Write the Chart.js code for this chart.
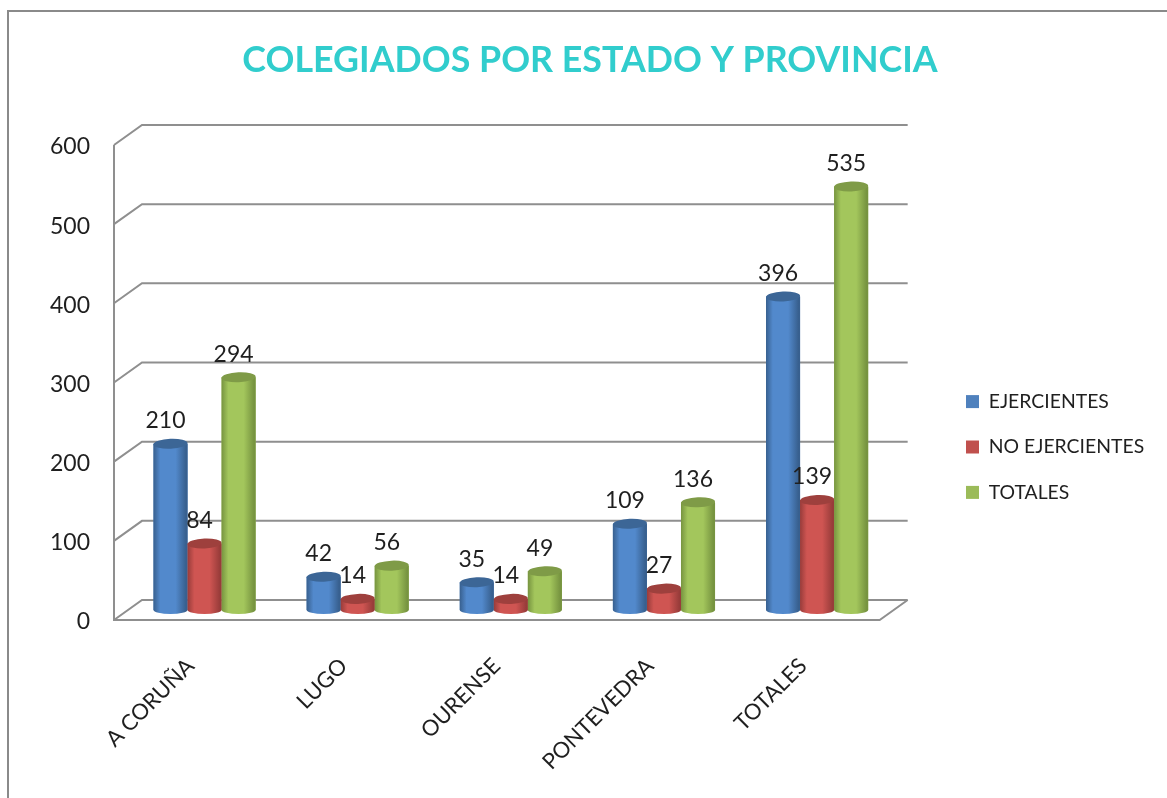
<!DOCTYPE html>
<html><head><meta charset="utf-8">
<style>
html,body{margin:0;padding:0;background:#fff;overflow:hidden}
#wrap{position:relative;width:1167px;height:798px}
#frame{position:absolute;left:7px;top:10px;right:0;bottom:0;border-left:2px solid #8a8a8a;border-top:2px solid #8a8a8a}
canvas{position:absolute;left:0;top:0;filter:blur(0.4px)}
</style>
<script src="https://cdn.jsdelivr.net/npm/chart.js@4"></script>
</head><body>
<div id="wrap"><div id="frame"></div><canvas id="c" width="1167" height="798"></canvas></div>
<script>
const titleText = 'COLEGIADOS POR ESTADO Y PROVINCIA';
const categories = ['A CORUÑA','LUGO','OURENSE','PONTEVEDRA','TOTALES'];
const ejercientes = [210,42,35,109,396];
const noEjercientes = [84,14,14,27,139];
const totales = [294,56,49,136,535];
const yTicks = [0,100,200,300,400,500,600];
const FONT = 'Lato';
const TEXT = '#1f1f1f';
const shades = {
  '#4f81bd':{edge:'#38608f',mid:'#5289cc',cap:'#3c6696'},
  '#c0504d':{edge:'#983c3a',mid:'#cf5552',cap:'#9e403d'},
  '#9bbb59':{edge:'#779440',mid:'#a3c65c',cap:'#7f9b47'}
};
const DX=14, DY=10, RY=5;
const wall = {
  id:'wall',
  beforeDatasetsDraw(chart){
    const {ctx,chartArea:a,scales:{y}}=chart;
    ctx.save();ctx.strokeStyle='#8f8f8f';ctx.lineWidth=2;ctx.lineJoin='miter';
    y.ticks.forEach(t=>{
      const p=y.getPixelForValue(t.value);
      ctx.beginPath();ctx.moveTo(a.left-DX,p+DY);ctx.lineTo(a.left+DX,p-DY);ctx.lineTo(a.right+DX,p-DY);ctx.stroke();
    });
    const top=y.getPixelForValue(y.max),bot=y.getPixelForValue(y.min);
    ctx.beginPath();ctx.moveTo(a.left-DX,top+DY);ctx.lineTo(a.left-DX,bot+DY);ctx.lineTo(a.right-DX,bot+DY);ctx.lineTo(a.right+DX,bot-DY);ctx.stroke();
    ctx.restore();
  }
};
const cylinders = {
  id:'cylinders',
  afterDatasetsDraw(chart){
    const {ctx}=chart;
    ctx.save();
    chart.data.datasets.forEach((ds,i)=>{
      const s=shades[ds.backgroundColor];
      chart.getDatasetMeta(i).data.forEach(b=>{
        const {x,y,base,width}=b.getProps(['x','y','base','width'],true);
        const l=x-width/2,r=x+width/2,rx=width/2;
        const g=ctx.createLinearGradient(l,0,r,0);
        g.addColorStop(0,s.edge);g.addColorStop(.2,s.mid);g.addColorStop(.65,s.mid);g.addColorStop(.95,s.edge);g.addColorStop(1,s.edge);
        ctx.fillStyle=g;
        ctx.beginPath();
        ctx.moveTo(l,y);ctx.lineTo(l,base);
        ctx.ellipse(x,base,rx,RY-1,0,Math.PI,0,true);
        ctx.lineTo(r,y);ctx.closePath();ctx.fill();
        ctx.fillStyle=s.cap;
        ctx.beginPath();ctx.ellipse(x,y,rx,RY,-0.04,0,Math.PI*2);ctx.fill();
      });
    });
    chart.data.datasets.forEach((ds,i)=>{
      chart.getDatasetMeta(i).data.forEach((b,j)=>{
        const {x,y}=b.getProps(['x','y'],true);
        ctx.fillStyle=TEXT;ctx.font='23px '+FONT;ctx.textAlign='center';ctx.textBaseline='middle';
        ctx.fillText(String(ds.data[j]),x-5,y-23);
      });
    });
    ctx.restore();
  }
};
const placeLegend = {
  id:'placeLegend',
  afterLayout(chart){
    const L=chart.legend, pad=L.options.labels.padding;
    L.left=966-pad; L.right=1167;
    L.width=L.right-L.left;
    L.top+=48; L.bottom+=48;
  }
};
const solid=c=>({backgroundColor:c,borderWidth:0,categoryPercentage:0.667,barPercentage:1});
new Chart(document.getElementById('c'),{
  type:'bar',
  data:{labels:categories,datasets:[
    {label:'EJERCIENTES',data:ejercientes,...solid('#4f81bd')},
    {label:'NO EJERCIENTES',data:noEjercientes,...solid('#c0504d')},
    {label:'TOTALES',data:totales,...solid('#9bbb59')}
  ]},
  options:{
    responsive:false,animation:false,
    layout:{autoPadding:false,padding:{left:13,right:0,top:0,bottom:0}},
    plugins:{
      title:{display:true,text:titleText,color:'#31cdcd',font:{family:FONT,size:35.8,weight:'bold',lineHeight:1.2},padding:{top:39,bottom:53}},
      legend:{position:'right',labels:{boxWidth:13,boxHeight:13,color:TEXT,font:{family:FONT,size:19.4},padding:26}},
      tooltip:{enabled:false}
    },
    scales:{
      x:{
        grid:{display:false,drawTicks:false},border:{display:false},
        afterFit(s){s.height=188;},
        ticks:{font:{family:FONT,size:22},color:TEXT,minRotation:45,maxRotation:45,padding:43,labelOffset:-14,autoSkip:false}
      },
      y:{
        min:0,max:600,
        afterFit(s){s.width=115;},
        afterBuildTicks(s){s.ticks=yTicks.map(v=>({value:v}));},
        grid:{display:false,drawTicks:false},border:{display:false},
        ticks:{font:{family:FONT,size:23},color:TEXT,padding:38,labelOffset:12}
      },
      pad:{
        position:'right',display:true,
        afterFit(s){s.width=81;},
        grid:{display:false,drawTicks:false},border:{display:false},ticks:{display:false}
      }
    }
  },
  plugins:[placeLegend,wall,cylinders]
});
</script>
</body></html>
